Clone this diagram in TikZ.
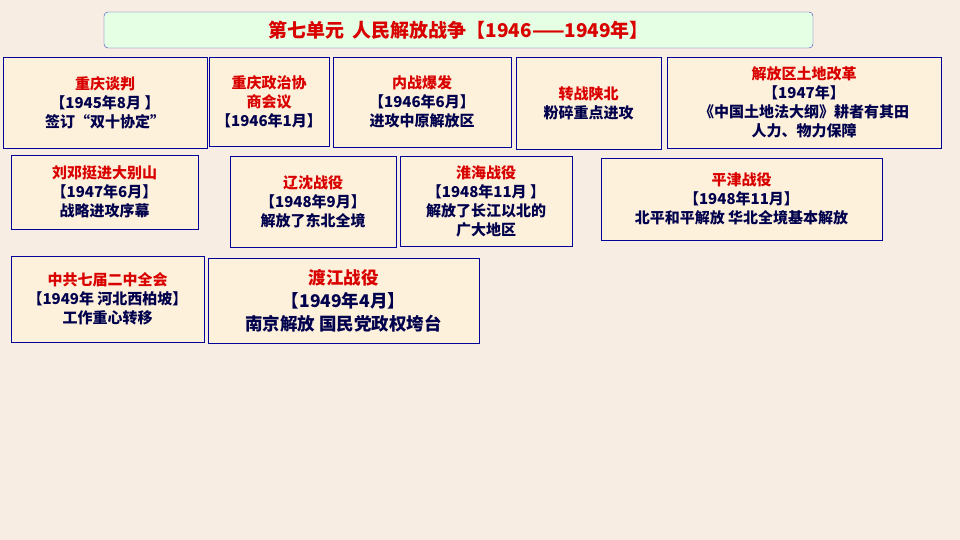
\documentclass[tikz,border=0pt]{standalone}
\usepackage{fontspec}
\setmainfont{Noto Sans CJK SC}
\begin{document}
\begin{tikzpicture}[x=1pt,y=-1pt,
 box/.style={draw=blue!60!black,line width=0.8pt,fill=yellow!18!orange!12,align=center,inner sep=1pt,font=\fontsize{15}{19}\selectfont\bfseries,text=blue!30!black},
 ttl/.style={text=red!85!black}]
\fill[orange!12!brown!14!white] (0,0) rectangle (960,540);
\useasboundingbox (0,0) rectangle (960,540);
\node[draw=blue!50!gray,fill=green!10,rounded corners=4pt,minimum width=709pt,minimum height=36pt,font=\fontsize{19}{22}\selectfont\bfseries,text=red!85!black] (t) at (458.5,30) {第七单元\ \ 人民解放战争【1946——1949年】};
\node[box,minimum width=204pt,minimum height=91pt] (b1) at (105,102.5) {\textcolor{red!85!black}{重庆谈判}\\【1945年8月 】\\签订“双十协定”};
\node[box,minimum width=120pt,minimum height=89pt] (b2) at (269,101.5) {\textcolor{red!85!black}{重庆政治协}\\\textcolor{red!85!black}{商会议}\\【1946年1月】};
\node[box,minimum width=178pt,minimum height=90pt] (b3) at (422,102) {\textcolor{red!85!black}{内战爆发}\\【1946年6月】\\进攻中原解放区};
\node[box,minimum width=145pt,minimum height=92pt] (b4) at (588.5,103) {\textcolor{red!85!black}{转战陕北}\\粉碎重点进攻};
\node[box,minimum width=274pt,minimum height=91pt] (b5) at (804,102.5) {\textcolor{red!85!black}{解放区土地改革}\\【1947年】\\《中国土地法大纲》耕者有其田\\人力、物力保障};
\node[box,minimum width=187pt,minimum height=74pt] (b6) at (104.5,192) {\textcolor{red!85!black}{刘邓挺进大别山}\\【1947年6月】\\战略进攻序幕};
\node[box,minimum width=166pt,minimum height=91pt] (b7) at (313,201.5) {\textcolor{red!85!black}{辽沈战役}\\【1948年9月】\\解放了东北全境};
\node[box,minimum width=172pt,minimum height=90pt] (b8) at (486,201) {\textcolor{red!85!black}{淮海战役}\\【1948年11月 】\\解放了长江以北的\\广大地区};
\node[box,minimum width=281pt,minimum height=82pt] (b9) at (741.5,199) {\textcolor{red!85!black}{平津战役}\\【1948年11月】\\北平和平解放\ 华北全境基本解放};
\node[box,minimum width=193pt,minimum height=86pt] (b10) at (107.5,299) {\textcolor{red!85!black}{中共七届二中全会}\\【1949年 河北西柏坡】\\工作重心转移};
\node[box,minimum width=271pt,minimum height=85pt,font=\fontsize{17.5}{23}\selectfont\bfseries] (b11) at (343.5,300.5) {\textcolor{red!85!black}{渡江战役}\\【1949年4月】\\南京解放\ 国民党政权垮台};
\end{tikzpicture}
\end{document}
